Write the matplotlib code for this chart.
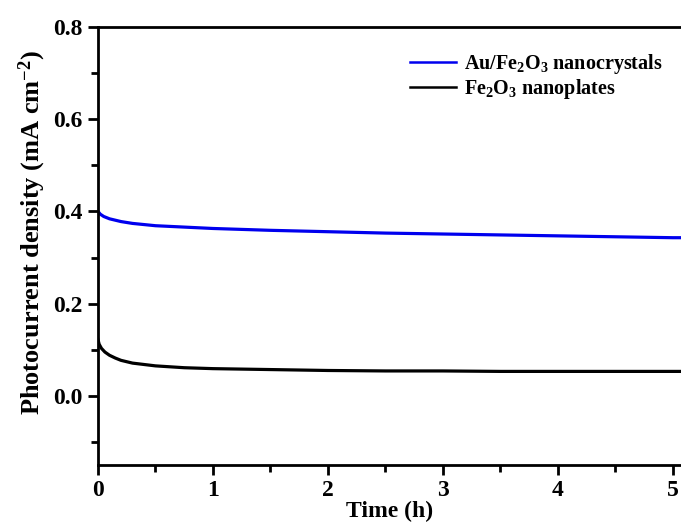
import matplotlib.pyplot as plt
from matplotlib.ticker import MultipleLocator

# time (h) and photocurrent density (mA cm^-2)
t_au = [0.0, 0.02, 0.05, 0.1, 0.2, 0.3, 0.5, 0.75, 1.0, 1.5, 2.0, 2.5, 3.0, 3.5, 4.0, 4.5, 5.0, 5.07]
j_au = [0.400, 0.394, 0.389, 0.384, 0.378, 0.374, 0.369, 0.366, 0.363, 0.359, 0.356, 0.353, 0.351, 0.349, 0.347, 0.345, 0.343, 0.343]

t_fe = [0.0, 0.01, 0.03, 0.06, 0.1, 0.15, 0.2, 0.3, 0.5, 0.75, 1.0, 1.5, 2.0, 2.5, 3.0, 3.5, 4.0, 4.5, 5.0, 5.07]
j_fe = [0.122, 0.112, 0.103, 0.095, 0.088, 0.082, 0.077, 0.071, 0.065, 0.061, 0.059, 0.057, 0.055, 0.054, 0.054, 0.053, 0.053, 0.053, 0.053, 0.053]

plt.rcParams['font.family'] = ['Liberation Serif', 'DejaVu Serif']
plt.rcParams['font.weight'] = 'bold'
plt.rcParams['mathtext.fontset'] = 'custom'
plt.rcParams['mathtext.rm'] = 'Liberation Serif:bold'
plt.rcParams['mathtext.it'] = 'Liberation Serif:bold'
plt.rcParams['mathtext.bf'] = 'Liberation Serif:bold'
plt.rcParams['mathtext.default'] = 'bf'

fig = plt.figure(figsize=(6.81, 5.28), dpi=100)
ax = fig.add_axes([98 / 681, 1 - 465 / 528, 1 - 98 / 681, (465 - 27) / 528])

ax.plot(t_au, j_au, color='#0000ee', lw=2.3, label=r'Au/Fe$_2$O$_3$ nanocrystals')
ax.plot(t_fe, j_fe, color='black', lw=2.3, label=r'Fe$_2$O$_3$ nanoplates')

ax.set_xlim(0, 5.07)
ax.set_ylim(-0.15, 0.8)
ax.xaxis.set_major_locator(MultipleLocator(1))
ax.xaxis.set_minor_locator(MultipleLocator(0.5))
ax.yaxis.set_major_locator(MultipleLocator(0.2))
ax.yaxis.set_minor_locator(MultipleLocator(0.1))
ax.set_yticks([0.0, 0.2, 0.4, 0.6, 0.8])

for s in ['left', 'bottom', 'top']:
    ax.spines[s].set_linewidth(2)
ax.spines['right'].set_visible(False)
ax.tick_params(which='both', direction='out', width=2, top=False, right=False,
               labelsize=17)
ax.tick_params(which='major', length=7, pad=4)
ax.tick_params(which='minor', length=5)

ax.set_xlabel('Time (h)', fontsize=17, fontweight='bold', labelpad=0)
ax.set_ylabel(r'Photocurrent density (mA cm$^{-2}$)', fontsize=19,
              fontweight='bold')
ax.yaxis.set_label_coords(-0.085, 0.53)

leg = ax.legend(loc='upper right', bbox_to_anchor=(1.0, 0.985), frameon=False,
                fontsize=14.5, handlelength=2.3, handletextpad=0.4,
                labelspacing=0.05)
for line in leg.get_lines():
    line.set_linewidth(1.8)

fig.savefig('out.png', dpi=100)
